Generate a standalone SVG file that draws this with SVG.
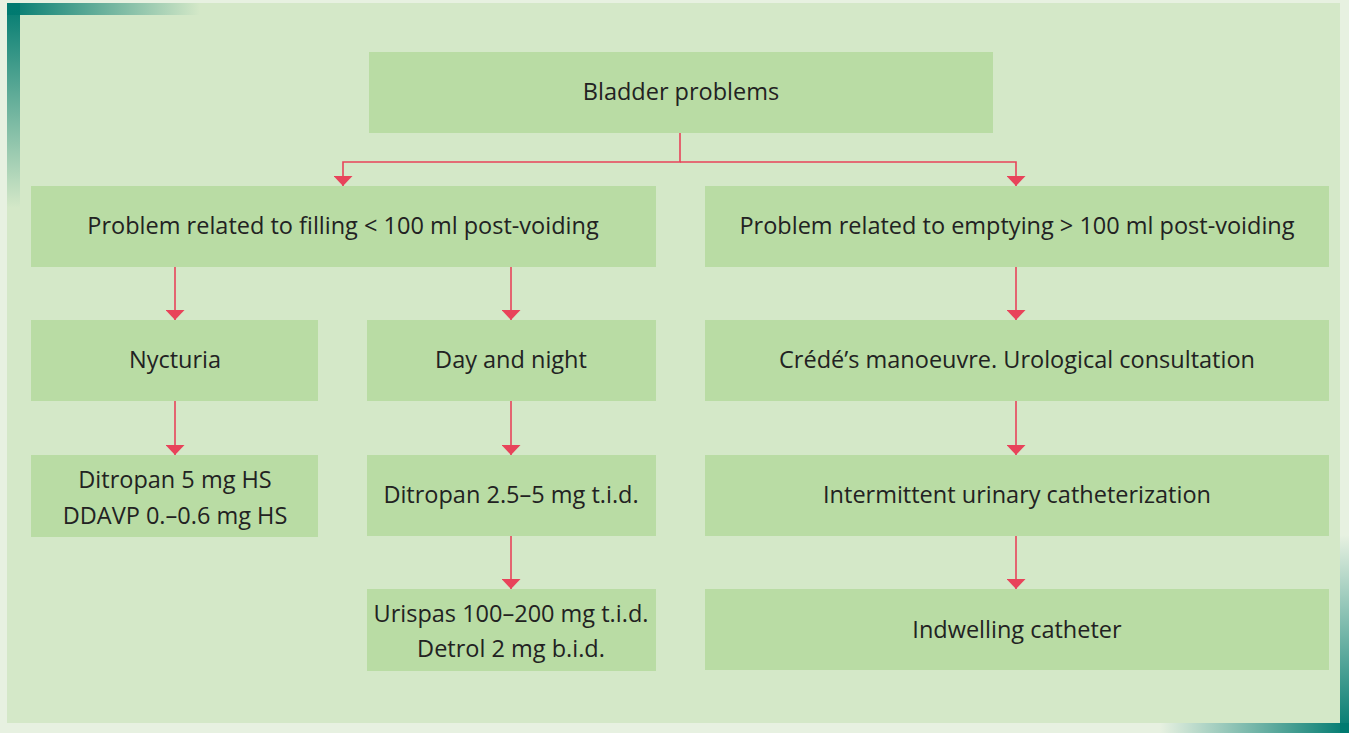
<svg xmlns="http://www.w3.org/2000/svg" width="1349" height="733" viewBox="0 0 1349 733">
<defs>
<linearGradient id="gTop" x1="0" y1="0" x2="1" y2="0"><stop offset="0" stop-color="#007a70"/><stop offset="1" stop-color="#007a70" stop-opacity="0"/></linearGradient>
<linearGradient id="gLeft" x1="0" y1="0" x2="0" y2="1"><stop offset="0" stop-color="#007a70"/><stop offset="1" stop-color="#007a70" stop-opacity="0"/></linearGradient>
<linearGradient id="gRight" x1="0" y1="1" x2="0" y2="0"><stop offset="0" stop-color="#007a70"/><stop offset="1" stop-color="#007a70" stop-opacity="0"/></linearGradient>
<linearGradient id="gBot" x1="1" y1="0" x2="0" y2="0"><stop offset="0" stop-color="#007a70"/><stop offset="1" stop-color="#007a70" stop-opacity="0"/></linearGradient>
<marker id="ah" markerWidth="10" markerHeight="19" refX="10" refY="9.5" orient="auto" markerUnits="userSpaceOnUse" viewBox="0 0 10 19">
<path d="M0,0 L10,9.5 L0,19 Z" fill="#e8435a"/>
</marker>
<style>
.box{fill:#b9dca4}
.t{font-family:"Open Sans","Noto Sans",sans-serif;font-size:23.5px;fill:#222;text-anchor:middle}
.c{fill:none;stroke:#e8435a;stroke-width:1.6}
</style>
</defs>
<rect width="1349" height="733" fill="#e7f1e1"/>
<rect x="7" y="3" width="1333" height="720" fill="#d4e8c8"/>
<rect x="7" y="3" width="193" height="12" fill="url(#gTop)"/>
<rect x="7" y="3" width="13" height="205" fill="url(#gLeft)"/>
<rect x="1340" y="535" width="9" height="198" fill="url(#gRight)"/>
<rect x="1160" y="723" width="189" height="10" fill="url(#gBot)"/>

<g id="connectors">
<path class="c" d="M680,133 V162 H343 V186" marker-end="url(#ah)"/>
<path class="c" d="M680,162 H1016 V186" marker-end="url(#ah)"/>
<path class="c" d="M175,267 V320" marker-end="url(#ah)"/>
<path class="c" d="M511,267 V320" marker-end="url(#ah)"/>
<path class="c" d="M1016,267 V320" marker-end="url(#ah)"/>
<path class="c" d="M175,401 V455" marker-end="url(#ah)"/>
<path class="c" d="M511,401 V455" marker-end="url(#ah)"/>
<path class="c" d="M1016,401 V455" marker-end="url(#ah)"/>
<path class="c" d="M511,536 V589" marker-end="url(#ah)"/>
<path class="c" d="M1016,536 V589" marker-end="url(#ah)"/>
</g>

<g id="bladder"><rect class="box" x="369" y="52" width="624" height="81"/><text class="t" x="681" y="100">Bladder problems</text></g>
<g id="filling"><rect class="box" x="31" y="186" width="625" height="81"/><text class="t" x="343" y="234">Problem related to filling &lt; 100 ml post-voiding</text></g>
<g id="emptying"><rect class="box" x="705" y="186" width="624" height="81"/><text class="t" x="1017" y="234">Problem related to emptying &gt; 100 ml post-voiding</text></g>
<g id="nycturia"><rect class="box" x="31" y="320" width="287" height="81"/><text class="t" x="175" y="368">Nycturia</text></g>
<g id="daynight"><rect class="box" x="367" y="320" width="289" height="81"/><text class="t" x="511" y="368">Day and night</text></g>
<g id="crede"><rect class="box" x="705" y="320" width="624" height="81"/><text class="t" x="1017" y="368">Crédé’s manoeuvre. Urological consultation</text></g>
<g id="ditropan5"><rect class="box" x="31" y="455" width="287" height="82"/><text class="t" x="175" y="488">Ditropan 5 mg HS</text><text class="t" x="175" y="524">DDAVP 0.–0.6 mg HS</text></g>
<g id="ditropan25"><rect class="box" x="367" y="455" width="289" height="81"/><text class="t" x="511" y="503">Ditropan 2.5–5 mg t.i.d.</text></g>
<g id="intermittent"><rect class="box" x="705" y="455" width="624" height="81"/><text class="t" x="1017" y="503">Intermittent urinary catheterization</text></g>
<g id="urispas"><rect class="box" x="367" y="589" width="289" height="82"/><text class="t" x="511" y="622">Urispas 100–200 mg t.i.d.</text><text class="t" x="511" y="657">Detrol 2 mg b.i.d.</text></g>
<g id="indwelling"><rect class="box" x="705" y="589" width="624" height="81"/><text class="t" x="1017" y="638">Indwelling catheter</text></g>
</svg>
